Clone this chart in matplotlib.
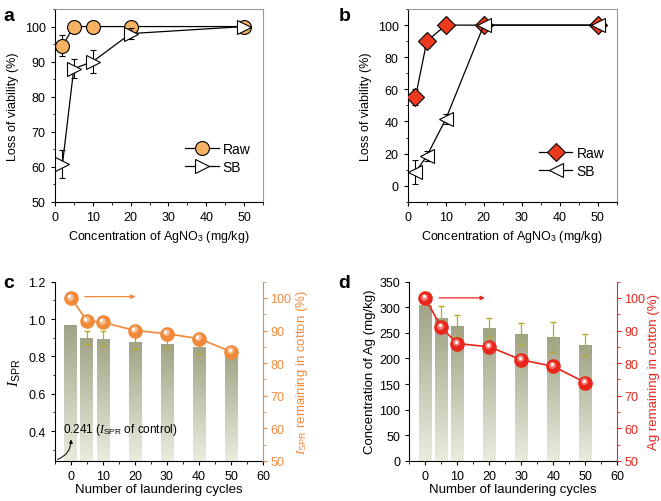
import numpy as np
import matplotlib
matplotlib.use('Agg')
import matplotlib.pyplot as plt
from matplotlib.ticker import MultipleLocator
from matplotlib.transforms import offset_copy
from matplotlib.colors import LinearSegmentedColormap

plt.rcParams['font.family'] = ['Liberation Sans', 'DejaVu Sans']
plt.rcParams['mathtext.fontset'] = 'custom'
plt.rcParams['mathtext.rm'] = 'Liberation Sans'
plt.rcParams['mathtext.it'] = 'Liberation Serif:italic'
plt.rcParams['font.size'] = 9
plt.rcParams['xtick.direction'] = 'out'
plt.rcParams['ytick.direction'] = 'out'

# a
conc = [2, 5, 10, 20, 50]
a_raw = [94.5, 100, 100, 100, 100]
a_raw_err = [3, 0, 0, 0, 0]
a_sb = [60.7, 88, 90, 98, 100]
a_sb_err = [4, 2.7, 3.2, 1.5, 0]
# b
b_raw = [55, 90, 100, 100, 100]
b_raw_err = [5, 4, 0, 0, 0]
b_sb = [8.5, 18.5, 41.5, 100, 100]
b_sb_err = [7.5, 3, 3, 0, 0]
# c, d
cycles = [0, 5, 10, 20, 30, 40, 50]
c_ispr = [0.97, 0.90, 0.895, 0.875, 0.865, 0.85, 0.82]
c_ispr_err = [0, 0.035, 0.04, 0.035, 0.02, 0.035, 0.02]
c_pct = [100, 93, 92.5, 90, 89, 87.5, 83.5]
d_ag = [305, 278, 263, 260, 248, 242, 226]
d_ag_err = [0, 25, 22, 19, 21, 30, 22]
d_pct = [100, 91, 86, 85, 81, 79, 74]

ORANGE = '#f0893a'
RED = '#e8261c'
RAWA = '#f5b263'
BAR_CMAP = LinearSegmentedColormap.from_list('bar', ['#ebecdf', '#a0a386'])
TICK = 9
LAB = 9

fig = plt.figure(figsize=(6.61, 5.02), dpi=100)
ax_a = fig.add_axes([0.083, 0.596, 0.315, 0.384])
ax_b = fig.add_axes([0.617, 0.596, 0.316, 0.384])
ax_c = fig.add_axes([0.083, 0.080, 0.315, 0.357])
ax_d = fig.add_axes([0.619, 0.080, 0.315, 0.357])


def style_box(ax):
    for s in ['top', 'right']:
        ax.spines[s].set_color('#999999')
    ax.tick_params(top=False, right=False, labelsize=TICK, length=3)
    ax.tick_params(which='minor', length=1.8)


# panel a
ax_a.errorbar(conc, a_raw, yerr=a_raw_err, color='k', lw=0.9, marker='o', ms=10,
              mfc=RAWA, mec='k', mew=0.8, capsize=2, elinewidth=0.8, label='Raw', zorder=3)
ax_a.errorbar(conc, a_sb, yerr=a_sb_err, color='k', lw=0.9, marker='>', ms=10,
              mfc='white', mec='k', mew=0.8, capsize=2, elinewidth=0.8, label='SB', zorder=4)
ax_a.set_xlim(0, 55)
ax_a.set_ylim(50, 105)
ax_a.xaxis.set_major_locator(MultipleLocator(10))
ax_a.xaxis.set_minor_locator(MultipleLocator(5))
ax_a.yaxis.set_major_locator(MultipleLocator(10))
ax_a.yaxis.set_minor_locator(MultipleLocator(5))
ax_a.set_xlabel('Concentration of AgNO$_3$ (mg/kg)', fontsize=LAB)
ax_a.set_ylabel('Loss of viability (%)', fontsize=LAB)
style_box(ax_a)
h, l = ax_a.get_legend_handles_labels()
ax_a.legend([x[0] for x in h], l, loc='lower right', frameon=False, fontsize=10,
            handlelength=2.4, bbox_to_anchor=(1.0, 0.08), labelspacing=0.3, handletextpad=0.3)

# panel b
ax_b.errorbar(conc, b_raw, yerr=b_raw_err, color='k', lw=0.9, marker='D', ms=9,
              mfc='#ec3a1e', mec='k', mew=0.8, capsize=2, elinewidth=0.8, label='Raw', zorder=3)
ax_b.errorbar(conc, b_sb, yerr=b_sb_err, color='k', lw=0.9, marker='<', ms=10,
              mfc='white', mec='k', mew=0.8, capsize=2, elinewidth=0.8, label='SB', zorder=4)
ax_b.set_xlim(0, 55)
ax_b.set_ylim(-10, 110)
ax_b.xaxis.set_major_locator(MultipleLocator(10))
ax_b.xaxis.set_minor_locator(MultipleLocator(5))
ax_b.yaxis.set_major_locator(MultipleLocator(20))
ax_b.yaxis.set_minor_locator(MultipleLocator(10))
ax_b.set_xlabel('Concentration of AgNO$_3$ (mg/kg)', fontsize=LAB)
ax_b.set_ylabel('Loss of viability (%)', fontsize=LAB)
style_box(ax_b)
h, l = ax_b.get_legend_handles_labels()
ax_b.legend([x[0] for x in h], l, loc='lower right', frameon=False, fontsize=10,
            handlelength=2.4, bbox_to_anchor=(1.0, 0.06), labelspacing=0.3, handletextpad=0.3)


def grad_bars(ax, xs, hs, errs, ymin):
    bars = ax.bar(xs, hs, width=4, bottom=0, color='none', edgecolor='none', zorder=1)
    grad = np.linspace(0, 1, 256).reshape(-1, 1)
    for b in bars:
        x0 = b.get_x()
        im = ax.imshow(grad, cmap=BAR_CMAP, aspect='auto', origin='lower',
                       extent=[x0, x0 + b.get_width(), ymin, b.get_height()], zorder=1)
        im.set_clip_path(b)
    ax.errorbar(xs[1:], hs[1:], yerr=errs[1:], fmt='none', ecolor='#b3ad1f',
                elinewidth=0.9, capsize=2, zorder=2)


def spheres(ax, xs, ys, color, light):
    ax.plot(xs, ys, color=color, lw=1.2, zorder=3)
    ax.plot(xs, ys, ls='none', marker='o', ms=9.5, mfc=color, mec=color, zorder=4)
    tr = offset_copy(ax.transData, fig=fig, x=-0.8, y=1.0, units='points')
    ax.plot(xs, ys, ls='none', marker='o', ms=5, mfc=light, mec='none', alpha=0.7,
            transform=tr, zorder=5)
    tr2 = offset_copy(ax.transData, fig=fig, x=-1.1, y=1.4, units='points')
    ax.plot(xs, ys, ls='none', marker='o', ms=2.4, mfc='white', mec='none',
            transform=tr2, zorder=6)


def bottom_style(ax, rax, color):
    ax.spines['top'].set_visible(False)
    ax.spines['right'].set_visible(False)
    rax.spines['top'].set_visible(False)
    rax.spines['left'].set_visible(False)
    rax.spines['bottom'].set_visible(False)
    rax.spines['right'].set_color(color)
    rax.tick_params(axis='y', colors=color, labelsize=TICK, length=3, pad=2)
    rax.tick_params(axis='y', which='minor', colors=color, length=1.8)
    ax.tick_params(labelsize=TICK, length=3)
    ax.tick_params(which='minor', length=1.8)
    ax.set_xlim(-5, 60)
    ax.xaxis.set_major_locator(MultipleLocator(10))
    ax.xaxis.set_minor_locator(MultipleLocator(5))
    ax.set_xlabel('Number of laundering cycles', fontsize=9.5, labelpad=1)
    rax.set_ylim(50, 105)
    rax.yaxis.set_major_locator(MultipleLocator(10))
    rax.yaxis.set_minor_locator(MultipleLocator(5))


# panel c
ymin_c = 0.241
grad_bars(ax_c, cycles, c_ispr, c_ispr_err, ymin_c)
ax_c.set_ylim(ymin_c, 1.2)
ax_c.yaxis.set_major_locator(MultipleLocator(0.2))
ax_c.yaxis.set_minor_locator(MultipleLocator(0.1))
ax_c.set_ylabel(r'$\mathit{I}_{\mathrm{SPR}}$', fontsize=11)
rc = ax_c.twinx()
spheres(rc, cycles, c_pct, ORANGE, '#fbd0b0')
bottom_style(ax_c, rc, ORANGE)
rc.set_ylabel(r'$\mathit{I}_{\mathrm{SPR}}$ remaining in cotton (%)', color=ORANGE,
              fontsize=9.5, labelpad=2)
rc.annotate('', xy=(21, 100.4), xytext=(3.5, 100.4),
            arrowprops=dict(arrowstyle='-|>', color=ORANGE, lw=0.9, mutation_scale=6))
ax_c.annotate(r'0.241 ($\mathit{I}_{\mathrm{SPR}}$ of control)', xy=(0, 0.375), xytext=(-2.6, 0.41),
              fontsize=8.5, va='center', zorder=7)
ax_c.annotate('', xy=(0, 0.37), xytext=(-5, 0.243),
              arrowprops=dict(arrowstyle='-|>', color='k', lw=0.7, mutation_scale=5,
                              connectionstyle='arc3,rad=0.4'), zorder=7)

# panel d
grad_bars(ax_d, cycles, d_ag, d_ag_err, 0)
ax_d.set_ylim(0, 350)
ax_d.yaxis.set_major_locator(MultipleLocator(50))
ax_d.set_ylabel('Concentration of Ag (mg/kg)', fontsize=9.5, labelpad=2)
rd = ax_d.twinx()
spheres(rd, cycles, d_pct, RED, '#f6a29a')
bottom_style(ax_d, rd, RED)
rd.set_ylabel('Ag remaining in cotton (%)', color=RED, fontsize=9.5, labelpad=2)
rd.annotate('', xy=(19.5, 100), xytext=(3.5, 100),
            arrowprops=dict(arrowstyle='-|>', color=RED, lw=0.9, mutation_scale=6))

for t, x, y in [('a', 0.005, 0.985), ('b', 0.512, 0.985), ('c', 0.005, 0.452), ('d', 0.512, 0.452)]:
    fig.text(x, y, t, fontsize=14, fontweight='bold', va='top', ha='left')

fig.savefig('out.png', dpi=100)
